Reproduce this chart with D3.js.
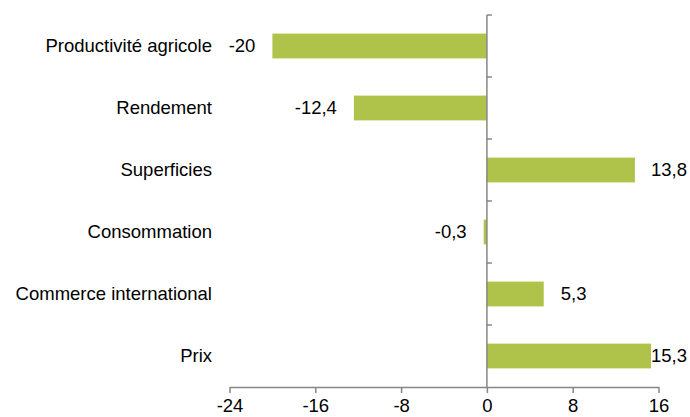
<!DOCTYPE html>
<html>
<head>
<meta charset="utf-8">
<script src="https://cdn.jsdelivr.net/npm/d3@7"></script>
<style>
  body { margin: 0; background: #fff; }
  text { font-family: "Liberation Sans", Arial, sans-serif; font-size: 18.5px; fill: #000; }
</style>
</head>
<body>
<svg width="690" height="417"></svg>
<script>
var categories = ["Productivité agricole", "Rendement", "Superficies", "Consommation", "Commerce international", "Prix"];
var values = [-20, -12.4, 13.8, -0.3, 5.3, 15.3];
var valueLabels = ["-20", "-12,4", "13,8", "-0,3", "5,3", "15,3"];
var xTicks = [-24, -16, -8, 0, 8, 16];

var svg = d3.select("svg");
var W = 690;
var axisColor = "#868686";
var barColor = "#afc34b";

var x = d3.scaleLinear().domain([-24, 16]).range([229.5, 658.5]);
var y = d3.scaleBand().domain(categories).range([15, 387]).paddingInner(0.6).paddingOuter(0.3);

var rows = categories.map(function(c, i) {
    return { name: c, value: values[i], label: valueLabels[i] };
});

// bars
svg.append("g").attr("class", "bars")
    .selectAll("rect")
    .data(rows)
    .enter().append("rect")
        .attr("x", d => Math.min(x(0), x(d.value)))
        .attr("y", d => y(d.name))
        .attr("width", d => Math.abs(x(d.value) - x(0)))
        .attr("height", y.bandwidth())
        .attr("fill", barColor);

// vertical axis at zero, ticks between categories
var yEdges = d3.range(categories.length + 1).map(i => 15 + i * (372 / categories.length));
var vax = svg.append("g").attr("class", "vaxis");
vax.append("line")
    .attr("x1", x(0)).attr("x2", x(0))
    .attr("y1", yEdges[0]).attr("y2", yEdges[yEdges.length - 1])
    .attr("stroke", axisColor).attr("stroke-width", 1.5);
vax.selectAll("line.t")
    .data(yEdges.slice(0, -1))
    .enter().append("line")
        .attr("class", "t")
        .attr("x1", x(0)).attr("x2", x(0) + 5)
        .attr("y1", d => d).attr("y2", d => d)
        .attr("stroke", axisColor).attr("stroke-width", 1.5);

// category labels
svg.append("g").attr("class", "cats")
    .selectAll("text")
    .data(rows)
    .enter().append("text")
        .attr("x", 212)
        .attr("y", d => y(d.name) + y.bandwidth() / 2)
        .attr("dy", "0.35em")
        .attr("text-anchor", "end")
        .text(d => d.name);

// value labels
var gap = 17;
svg.append("g").attr("class", "vals")
    .selectAll("text")
    .data(rows)
    .enter().append("text")
        .attr("y", d => y(d.name) + y.bandwidth() / 2)
        .attr("dy", "0.35em")
        .attr("text-anchor", d => d.value < 0 ? "end" : "start")
        .text(d => d.label)
        .attr("x", function(d) {
            if (d.value < 0) return x(d.value) - gap;
            var w = this.getComputedTextLength();
            return Math.min(x(d.value) + gap, W - 3 - w);
        });

// bottom axis
var xAxis = d3.axisBottom(x).tickValues(xTicks).tickSize(6).tickSizeOuter(0)
    .tickFormat(d3.format("d"));
var gx = svg.append("g").attr("transform", "translate(0,387)").call(xAxis);
gx.select(".domain").attr("stroke", axisColor).attr("stroke-width", 1.5);
gx.selectAll(".tick line").attr("stroke", axisColor).attr("stroke-width", 1.5);
gx.selectAll(".tick text")
    .attr("y", 11.5)
    .style("font-family", "'Liberation Sans', Arial, sans-serif")
    .style("font-size", "18.5px")
    .attr("fill", "#000")
    .text(d => d < 0 ? "-" + Math.abs(d) : d);
</script>
</body>
</html>
